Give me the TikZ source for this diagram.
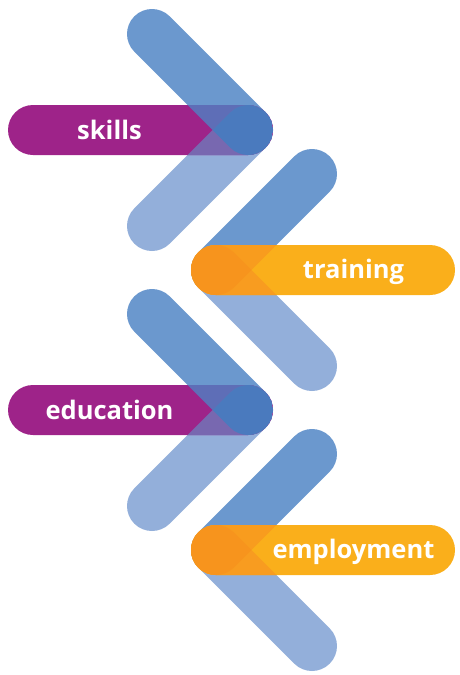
\documentclass[tikz,border=0pt]{standalone}
\usepackage{fontspec}
\setmainfont{Open Sans}
\definecolor{bupper}{HTML}{6B98CE}
\definecolor{blower}{HTML}{93AFDA}
\definecolor{purp}{HTML}{9E2389}
\definecolor{purpU}{HTML}{5E6EB7}
\definecolor{purpL}{HTML}{7868B0}
\definecolor{purpB}{HTML}{4A7ABE}
\definecolor{oran}{HTML}{FAAF1B}
\definecolor{oranU}{HTML}{F89C1E}
\definecolor{oranL}{HTML}{F89C20}
\definecolor{oranB}{HTML}{F7941D}
\newcommand\stadium[1]{(0,-25) -- (#1,-25) arc[start angle=-90,end angle=90,radius=25] -- (0,25) arc[start angle=90,end angle=270,radius=25] -- cycle}
% pill group with the chevron tip at the right
\newcommand\purplegroup[3]{%
  \fill[bupper, shift={(248,#1)}, rotate=135] \stadium{135.76};
  \fill[blower, shift={(248,#1)}, rotate=225] \stadium{135.76};
  \fill[purp, shift={(33,#1)}] \stadium{215};
  \begin{scope}
    \clip[shift={(33,#1)}] \stadium{215};
    \fill[purpU, shift={(248,#1)}, rotate=135] \stadium{135.76};
    \fill[purpL, shift={(248,#1)}, rotate=225] \stadium{135.76};
    \clip[shift={(248,#1)}, rotate=135] \stadium{135.76};
    \fill[purpB, shift={(248,#1)}, rotate=225] \stadium{135.76};
  \end{scope}
  \node[lbl] (#2) at (109.5,#1+9) {#3};
}
% pill group with the chevron tip at the left
\newcommand\orangegroup[3]{%
  \fill[bupper, shift={(216,#1)}, rotate=45] \stadium{135.76};
  \fill[blower, shift={(216,#1)}, rotate=-45] \stadium{135.76};
  \fill[oran, shift={(216,#1)}] \stadium{214};
  \begin{scope}
    \clip[shift={(216,#1)}] \stadium{214};
    \fill[oranU, shift={(216,#1)}, rotate=45] \stadium{135.76};
    \fill[oranL, shift={(216,#1)}, rotate=-45] \stadium{135.76};
    \clip[shift={(216,#1)}, rotate=45] \stadium{135.76};
    \fill[oranB, shift={(216,#1)}, rotate=-45] \stadium{135.76};
  \end{scope}
  \node[lbl] (#2) at (353.5,#1+8.5) {#3};
}
\begin{document}
\begin{tikzpicture}[x=1pt,y=-1pt,
  lbl/.style={text=white, inner sep=0pt, anchor=base, font=\fontsize{25.5}{25.5}\selectfont\bfseries}]
\useasboundingbox (0,0) rectangle (460,675);
\purplegroup{130}{skills}{skills}
\orangegroup{270}{training}{training}
\purplegroup{410}{education}{education}
\orangegroup{550}{employment}{employment}
\end{tikzpicture}
\end{document}
